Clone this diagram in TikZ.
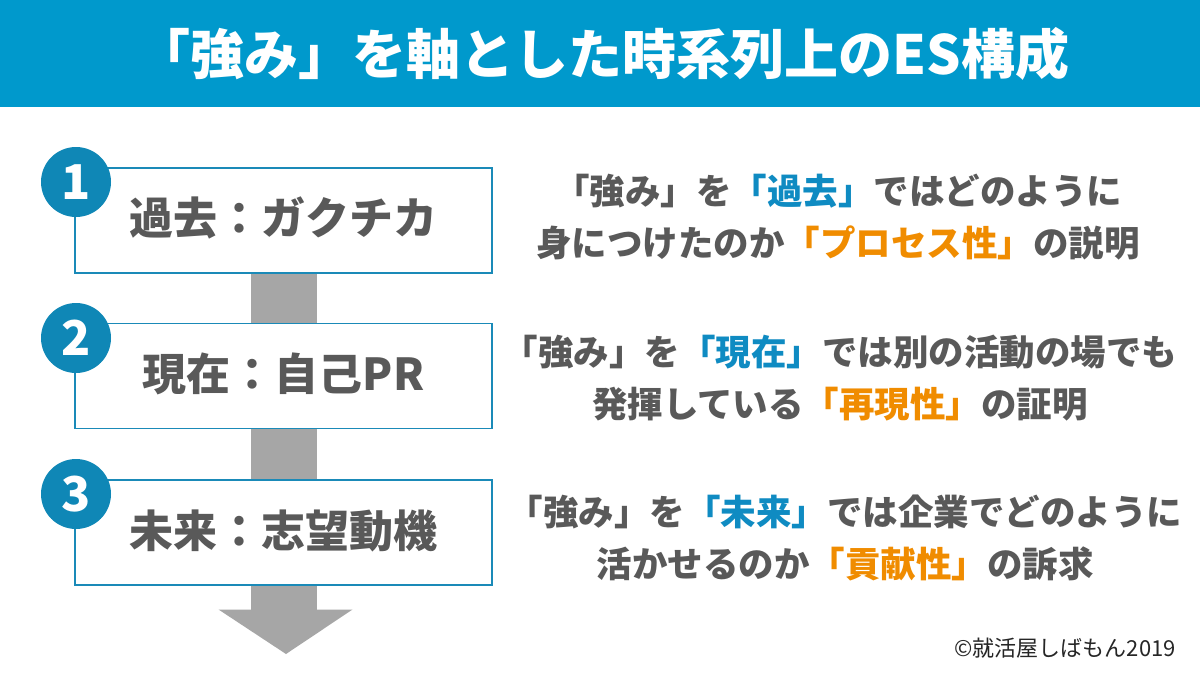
\documentclass[tikz,border=0pt]{standalone}
\usepackage{fontspec}
\newfontfamily\jp{Noto Sans CJK JP}
\usetikzlibrary{calc}
\definecolor{hdr}{HTML}{0099CC}
\definecolor{boxblue}{HTML}{1A8AB8}
\definecolor{circblue}{HTML}{0F87B6}
\definecolor{txtgray}{HTML}{595959}
\definecolor{arrgray}{HTML}{A6A6A6}
\definecolor{hlblue}{HTML}{0F8BC2}
\definecolor{hlorange}{HTML}{F08C00}
\tikzset{
  stepbox/.style={draw=boxblue, line width=1.8pt, fill=white, minimum width=417pt, minimum height=105pt, inner sep=0pt, text=txtgray},
  boxtext/.style={font=\jp\bfseries\fontsize{44}{48}\selectfont, text=txtgray, inner sep=0pt},
  numcirc/.style={circle, fill=circblue, minimum size=70pt, inner sep=0pt, font=\jp\bfseries\fontsize{48}{50}\selectfont, text=white},
  desc/.style={align=center, font=\jp\bfseries\fontsize{35.5}{52}\selectfont, text=txtgray, inner sep=0pt},
  shaft/.style={fill=arrgray}
}
\begin{document}
\begin{tikzpicture}[x=1pt,y=-1pt]
\useasboundingbox (0,0) rectangle (1200,675);
\fill[white] (0,0) rectangle (1200,675);
% header
\fill[hdr] (0,0) rectangle (1200,107);
\node[font=\jp\bfseries\fontsize{54}{58}\selectfont, text=white] (title) at (603,54) {「強み」を軸とした時系列上のES構成};
% boxes (coordinates for arrows first)
\coordinate (c1) at (283.5,220.5);
\coordinate (c2) at (283.5,376);
\coordinate (c3) at (283.5,532.5);
\coordinate (tip) at (286,654);
% shafts
\fill[shaft] ($(c1)+(-33,0)$) rectangle ($(c2)+(33,0)$);
\fill[shaft] ($(c2)+(-33,0)$) rectangle ($(c3)+(33,0)$);
\fill[shaft] ($(c3)+(-33,0)$) rectangle ($(c3)+(33,78)$);
\fill[shaft] ($(c3)+(-65,77)$) -- ($(c3)+(69,77)$) -- (tip) -- cycle;
% boxes
\node[stepbox] (b1) at (c1) {};
\node[stepbox] (b2) at (c2) {};
\node[stepbox] (b3) at (c3) {};
\node[boxtext] (t1) at ($(b1.center)+(0,-3)$) {過去：ガクチカ};
\node[boxtext] (t2) at ($(b2.center)+(0,-2)$) {現在：自己PR};
\node[boxtext] (t3) at ($(b3.center)+(0,-2)$) {未来：志望動機};
% number circles
\node[numcirc] (n1) at (76,182) {1};
\node[numcirc] (n2) at (76,338) {2};
\node[numcirc] (n3) at (76,494) {3};
% descriptions
\node[desc] (d1) at (838,217) {「強み」を{\color{hlblue}「過去」}ではどのように\\身につけたのか{\color{hlorange}「プロセス性」}の説明};
\node[desc] (d2) at (840,378) {「強み」を{\color{hlblue}「現在」}では別の活動の場でも\\発揮している{\color{hlorange}「再現性」}の証明};
\node[desc] (d3) at (845,538) {「強み」を{\color{hlblue}「未来」}では企業でどのように\\活かせるのか{\color{hlorange}「貢献性」}の訴求};
% copyright
\node[font=\jp\fontsize{22}{24}\selectfont, text=black!85, anchor=east, inner sep=0pt] (copy) at (1176,648) {©就活屋しばもん2019};
\end{tikzpicture}
\end{document}
